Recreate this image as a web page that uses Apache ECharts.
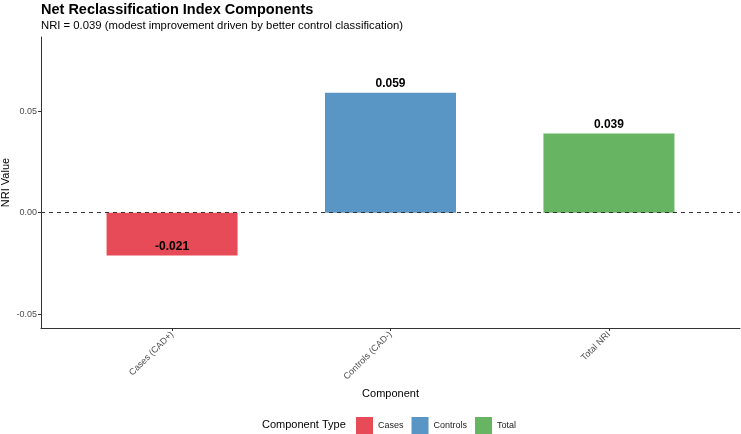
<!DOCTYPE html>
<html>
<head>
<meta charset="utf-8">
<script src="https://cdn.jsdelivr.net/npm/echarts@6/dist/echarts.min.js"></script>
<style>
html,body{margin:0;padding:0;background:#fff;}
#chart{width:741px;height:434px;}
</style>
</head>
<body>
<div id="chart"></div>
<script>
// NRI components
var categories = ['Cases (CAD+)', 'Controls (CAD-)', 'Total NRI'];
var seriesNames = ['Cases', 'Controls', 'Total'];
var nriValues = [-0.021, 0.059, 0.039];
var yTicks = [-0.05, 0, 0.05];
var colors = ['#E84B58', '#5A96C5', '#67B563'];

var fontFam = '"Liberation Sans", Arial, sans-serif';

var series = [];
for (var i = 0; i < seriesNames.length; i++) {
    series.push({
        name: seriesNames[i],
        type: 'bar',
        barWidth: 131,
        barGap: '-100%',
        itemStyle: { color: colors[i] },
        label: {
            show: true,
            position: nriValues[i] < 0 ? 'insideBottom' : 'top',
            distance: 3,
            color: '#000',
            fontWeight: 'bold',
            fontSize: 12,
            fontFamily: fontFam,
            formatter: function (p) { return p.value[1].toFixed(3); }
        },
        data: [[i, nriValues[i]]]
    });
}
// dashed zero line, on last series so it sits over the bars
series[2].markLine = {
    silent: true,
    symbol: 'none',
    z: 10,
    label: { show: false },
    lineStyle: { color: '#333', type: [4, 4], width: 1.2 },
    data: [{ yAxis: 0 }]
};

var option = {
    animation: false,
    title: [
        {
            text: 'Net Reclassification Index Components',
            subtext: 'NRI = 0.039 (modest improvement driven by better control classification)',
            left: 36, top: 1,
            itemGap: 3,
            padding: [1, 5],
            textStyle: { fontSize: 14.5, fontWeight: 'bold', color: '#000', fontFamily: fontFam },
            subtextStyle: { fontSize: 11.3, color: '#000', fontFamily: fontFam }
        },
        {
            text: 'Component Type',
            left: 262, top: 419,
            padding: 0,
            textStyle: { fontSize: 11, fontWeight: 'normal', color: '#000', fontFamily: fontFam }
        }
    ],
    legend: {
        data: seriesNames,
        left: 356, top: 417,
        padding: 0,
        itemWidth: 17, itemHeight: 17,
        itemGap: 8,
        icon: 'rect',
        textStyle: { fontSize: 9, color: '#222', fontFamily: fontFam }
    },
    grid: { left: 41, right: 1, top: 37, bottom: 106, containLabel: false, outerBoundsMode: 'none' },
    xAxis: {
        type: 'value',
        min: -0.6, max: 2.6,
        name: 'Component',
        nameLocation: 'middle',
        nameGap: 60,
        nameMoveOverlap: false,
        nameTextStyle: { fontSize: 11, color: '#000', fontFamily: fontFam },
        splitLine: { show: false },
        axisLine: { show: true, onZero: false, lineStyle: { color: '#333', width: 1 } },
        axisTick: { show: true, length: 3, lineStyle: { color: '#333' }, customValues: [0, 1, 2] },
        axisLabel: {
            customValues: [0, 1, 2],
            rotate: 45,
            fontSize: 9,
            color: '#4D4D4D',
            fontFamily: fontFam,
            margin: 5,
            formatter: function (v) { return categories[Math.round(v)] || ''; }
        }
    },
    yAxis: {
        type: 'value',
        min: -0.0567, max: 0.0864,
        name: 'NRI Value',
        nameLocation: 'middle',
        nameGap: 30,
        nameMoveOverlap: false,
        nameTextStyle: { fontSize: 11, color: '#000', fontFamily: fontFam },
        splitLine: { show: false },
        axisLine: { show: true, onZero: false, lineStyle: { color: '#333', width: 1 } },
        axisTick: { show: true, length: 3, lineStyle: { color: '#333' }, customValues: yTicks },
        axisLabel: {
            customValues: yTicks,
            fontSize: 9,
            color: '#4D4D4D',
            fontFamily: fontFam,
            margin: 4,
            formatter: function (v) { return v.toFixed(2); }
        }
    },
    series: series
};

var chart = echarts.init(document.getElementById('chart'));
chart.setOption(option);
</script>
</body>
</html>
